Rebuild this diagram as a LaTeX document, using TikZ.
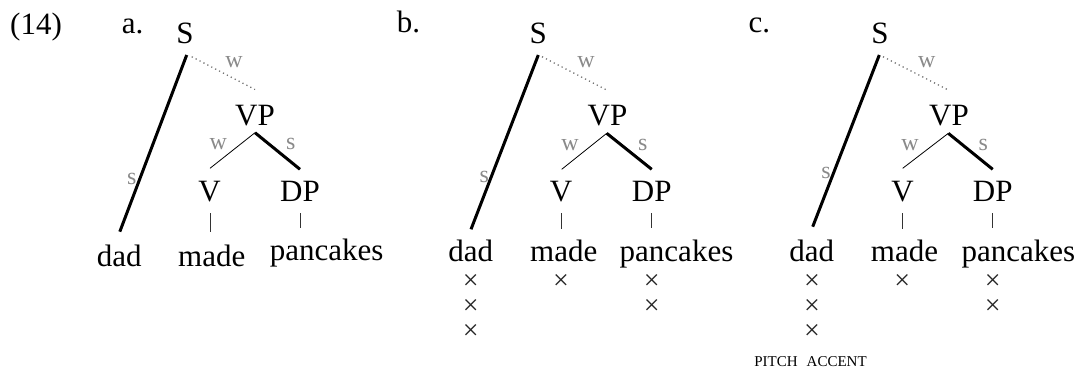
\documentclass[tikz,border=0pt]{standalone}
\usepackage{fontspec}
\setmainfont{Liberation Serif}
\usetikzlibrary{calc}
\definecolor{lblgray}{HTML}{8A8A8A}
\tikzset{
  cat/.style={font=\fontsize{31}{36}\selectfont, inner sep=0pt, anchor=base},
  lbl/.style={font=\fontsize{24}{28}\selectfont, text=lblgray, inner sep=0pt},
  xmark/.style={font=\fontsize{28}{32}\selectfont, text=black!85, inner sep=0pt},
  strong/.style={line width=3pt},
  weak/.style={line width=0.8pt},
  dotw/.style={line width=1.3pt, black!55, dash pattern=on 1.2pt off 3.2pt},
  stem/.style={line width=0.8pt, black!80},
  pa/.style={font=\fontsize{15}{18}\selectfont, inner sep=0pt, anchor=base}
}
\begin{document}
\begin{tikzpicture}[x=1pt,y=-1pt]
\useasboundingbox (0,0) rectangle (1081,368);
% example number and letters
\node[cat] (num) at (36,34) {(14)};
\node[cat, anchor=base west] (la) at (121.7,33) {a.};
\node[cat, anchor=base west] (lb) at (396.7,32) {b.};
\node[cat, anchor=base west] (lc) at (748.3,32) {c.};

% ---------- tree a ----------
\node[cat] (Sa) at (185,43) {S};
\node[cat] (VPa) at (255,125) {VP};
\node[cat] (Va) at (209.5,201.5) {V};
\node[cat] (DPa) at (300,201.5) {DP};
\node[cat] (dada) at (119.2,266) {dad};
\node[cat] (madea) at (211.7,266) {made};
\node[cat] (pana) at (326.7,260.5) {pancakes};
\draw[strong] ($(Sa.base)+(1.7,12)$) -- ($(dada.base)+(0.6,-34.3)$);
\draw[dotw] ($(Sa.base)+(6.7,13.7)$) -- ($(VPa.base)+(0,-35.5)$);
\draw[weak] ($(VPa.base)+(0,7.7)$) -- ($(Va.base)+(0.5,-33.2)$);
\draw[strong] ($(VPa.base)+(0,7.7)$) -- ($(DPa.base)+(0,-32.2)$);
\draw[stem] ($(Va.base)+(0.5,11.8)$) -- ($(madea.base)+(-1.7,-34.3)$);
\draw[stem] ($(DPa.base)+(0,11.8)$) -- ($(pana.base)+(-26.7,-32.2)$);
\node[lbl] (wa1) at (234,61.7) {w};
\node[lbl] (wa2) at (218.3,144) {w};
\node[lbl] (sa2) at (290.7,144) {s};
\node[lbl] (sa1) at (131.7,179.3) {s};

% ---------- tree b ----------
\node[cat] (Sb) at (538.3,43) {S};
\node[cat] (VPb) at (607.5,125) {VP};
\node[cat] (Vb) at (561,201.5) {V};
\node[cat] (DPb) at (651.7,201.5) {DP};
\node[cat] (dadb) at (470.8,261) {dad};
\node[cat] (madeb) at (563.7,261) {made};
\node[cat] (panb) at (676.5,261) {pancakes};
\draw[strong] ($(Sb.base)+(0,12)$) -- ($(dadb.base)+(0.2,-31.7)$);
\draw[dotw] ($(Sb.base)+(3.7,13.7)$) -- ($(VPb.base)+(-0.8,-35)$);
\draw[weak] ($(VPb.base)+(-0.8,8.3)$) -- ($(Vb.base)+(0.7,-32.2)$);
\draw[strong] ($(VPb.base)+(-0.8,8.3)$) -- ($(DPb.base)+(0,-32.2)$);
\draw[stem] ($(Vb.base)+(0,11.8)$) -- ($(madeb.base)+(-2.7,-32)$);
\draw[stem] ($(DPb.base)+(0,11.8)$) -- ($(panb.base)+(-24.8,-32.7)$);
\node[lbl] (wb1) at (586,61.7) {w};
\node[lbl] (wb2) at (570,145) {w};
\node[lbl] (sb2) at (642.7,145) {s};
\node[lbl] (sb1) at (484.3,176.7) {s};
\node[xmark] (xb1) at (470.7,282) {×};
\node[xmark] (xb2) at (470.7,307) {×};
\node[xmark] (xb3) at (470.7,332) {×};
\node[xmark] (xb4) at (561,282) {×};
\node[xmark] (xb5) at (651.7,282) {×};
\node[xmark] (xb6) at (651.7,307) {×};

% ---------- tree c ----------
\node[cat] (Sc) at (880,43) {S};
\node[cat] (VPc) at (949,125) {VP};
\node[cat] (Vc) at (902.5,201.5) {V};
\node[cat] (DPc) at (992.7,201.5) {DP};
\node[cat] (dadc) at (811.7,261) {dad};
\node[cat] (madec) at (904.5,261) {made};
\node[cat] (panc) at (1018.3,261) {pancakes};
\draw[strong] ($(Sc.base)+(-0.7,12)$) -- ($(dadc.base)+(1,-34.3)$);
\draw[dotw] ($(Sc.base)+(3,13.7)$) -- ($(VPc.base)+(-0.7,-35)$);
\draw[weak] ($(VPc.base)+(-0.7,8.3)$) -- ($(Vc.base)+(0.2,-33.2)$);
\draw[strong] ($(VPc.base)+(-0.7,8.3)$) -- ($(DPc.base)+(0,-32.2)$);
\draw[stem] ($(Vc.base)+(-0.2,11.8)$) -- ($(madec.base)+(-2.2,-32)$);
\draw[stem] ($(DPc.base)+(0,11.8)$) -- ($(panc.base)+(-25.6,-33)$);
\node[lbl] (wc1) at (926.7,61.7) {w};
\node[lbl] (wc2) at (910,145) {w};
\node[lbl] (sc2) at (983.3,145) {s};
\node[lbl] (sc1) at (826,173.3) {s};
\node[xmark] (xc1) at (812,282) {×};
\node[xmark] (xc2) at (812,307) {×};
\node[xmark] (xc3) at (812,332) {×};
\node[xmark] (xc4) at (902.3,282) {×};
\node[xmark] (xc5) at (992.7,282) {×};
\node[xmark] (xc6) at (992.7,307) {×};
\node[pa] (pitch) at (810.5,366) {PITCH\hspace{9pt}ACCENT};
\end{tikzpicture}
\end{document}
